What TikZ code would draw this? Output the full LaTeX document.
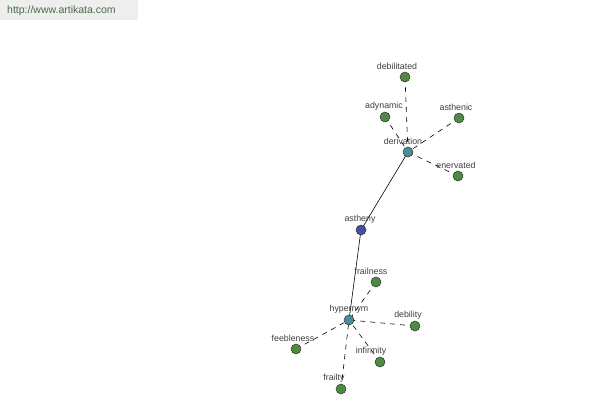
\documentclass[tikz,border=0pt]{standalone}
\usepackage{fontspec}
\setmainfont{Liberation Sans}
\definecolor{leaf}{HTML}{4E8A44}
\definecolor{hub}{HTML}{4A8E9C}
\definecolor{root}{HTML}{45509A}
\definecolor{lbl}{HTML}{404040}
\definecolor{hdr}{HTML}{EEEEEE}
\definecolor{hdrtxt}{HTML}{4A6A4A}
\tikzset{
  dot/.style={circle, draw=black!80, line width=0.5pt, minimum size=10pt, inner sep=0pt},
  leafdot/.style={dot, fill=leaf},
  hubdot/.style={dot, fill=hub},
  rootdot/.style={dot, fill=root},
  lab/.style={font=\fontsize{8.8}{9}\selectfont, text=lbl, inner sep=0pt},
  rel/.style={draw=black, line width=0.6pt, dash pattern=on 5pt off 5pt},
  main/.style={draw=black, line width=0.6pt}
}
\begin{document}
\begin{tikzpicture}[x=1pt,y=-1pt]
\useasboundingbox (0,0) rectangle (600,400);
\fill[white] (0,0) rectangle (600,400);
\fill[hdr] (0,0) rectangle (138,20);
\node[font=\fontsize{10.5}{11}\selectfont, text=hdrtxt, anchor=west, inner sep=0pt] (hdr) at (7,11) {http://www.artikata.com};

% edges first
\coordinate (cA) at (361,230);
\coordinate (cD) at (408,152);
\coordinate (cH) at (349,320);
\coordinate (cdeb) at (405,77);
\coordinate (cady) at (385,117);
\coordinate (cast) at (459,118);
\coordinate (cene) at (458,176);
\coordinate (cfrn) at (376,282);
\coordinate (cdbl) at (415,326);
\coordinate (cfee) at (296,349);
\coordinate (cinf) at (380,362);
\coordinate (cfry) at (341,389);

\draw[main] (cA) -- (cD);
\draw[main] (cA) -- (cH);
\draw[rel] (cdeb) -- (cD);
\draw[rel] (cady) -- (cD);
\draw[rel] (cast) -- (cD);
\draw[rel] (cene) -- (cD);
\draw[rel] (cfrn) -- (cH);
\draw[rel] (cdbl) -- (cH);
\draw[rel] (cfee) -- (cH);
\draw[rel] (cinf) -- (cH);
\draw[rel] (cfry) -- (cH);

% nodes
\node[rootdot] (A) at (cA) {};
\node[hubdot] (D) at (cD) {};
\node[hubdot] (H) at (cH) {};
\node[leafdot] (deb) at (cdeb) {};
\node[leafdot] (ady) at (cady) {};
\node[leafdot] (ast) at (cast) {};
\node[leafdot] (ene) at (cene) {};
\node[leafdot] (frn) at (cfrn) {};
\node[leafdot] (dbl) at (cdbl) {};
\node[leafdot] (fee) at (cfee) {};
\node[leafdot] (inf) at (cinf) {};
\node[leafdot] (fry) at (cfry) {};

% labels
\node[lab] (lA) at (360,219) {astheny};
\node[lab] (lD) at (403,141) {derivation};
\node[lab] (lH) at (349,309) {hypernym};
\node[lab] (ldeb) at (397,66) {debilitated};
\node[lab] (lady) at (384,106) {adynamic};
\node[lab] (last) at (456,107) {asthenic};
\node[lab] (lene) at (456,165) {enervated};
\node[lab] (lfrn) at (371,271) {frailness};
\node[lab] (ldbl) at (408,315) {debility};
\node[lab] (lfee) at (293,338) {feebleness};
\node[lab] (linf) at (371,351) {infirmity};
\node[lab] (lfry) at (334,378) {frailty};
\end{tikzpicture}
\end{document}
